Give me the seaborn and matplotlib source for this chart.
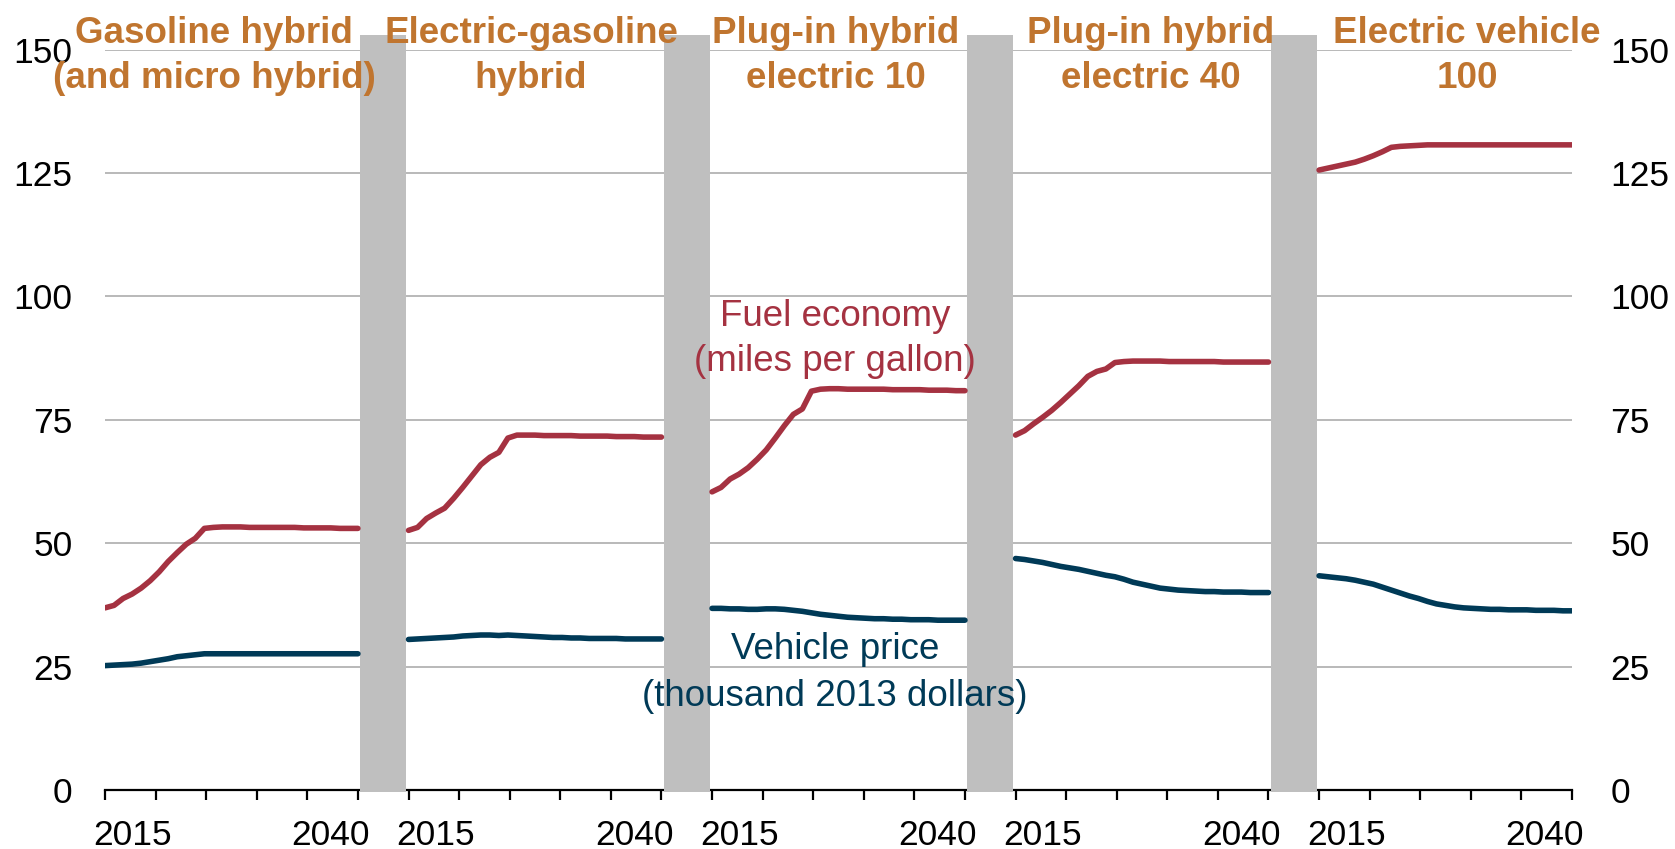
import numpy as np
import pandas as pd
import matplotlib
matplotlib.use('Agg')
import matplotlib.pyplot as plt
import seaborn as sns

# years shown in every panel
years = list(range(2012, 2041))

panel_titles = [
    ['Gasoline hybrid', '(and micro hybrid)'],
    ['Electric-gasoline', 'hybrid'],
    ['Plug-in hybrid', 'electric 10'],
    ['Plug-in hybrid', 'electric 40'],
    ['Electric vehicle', '100'],
]

# fuel economy, miles per gallon
mpg_gas_hybrid = [36.9, 37.4, 38.8, 39.7, 40.9, 42.4, 44.2, 46.3, 48.1, 49.8, 51.0, 53.0, 53.2,
                  53.3, 53.3, 53.3, 53.2, 53.2, 53.2, 53.2, 53.2, 53.2, 53.1, 53.1, 53.1, 53.1,
                  53.0, 53.0, 53.0]
mpg_elec_gas = [52.6, 53.2, 55.0, 56.1, 57.1, 59.1, 61.3, 63.6, 65.9, 67.4, 68.4, 71.3, 71.9,
                71.9, 71.9, 71.8, 71.8, 71.8, 71.8, 71.7, 71.7, 71.7, 71.7, 71.6, 71.6, 71.6,
                71.5, 71.5, 71.5]
mpg_phev10 = [60.4, 61.3, 63.0, 64.0, 65.3, 67.0, 68.9, 71.3, 73.8, 76.1, 77.2, 80.8, 81.2,
              81.3, 81.3, 81.2, 81.2, 81.2, 81.2, 81.2, 81.1, 81.1, 81.1, 81.1, 81.0, 81.0,
              81.0, 80.9, 80.9]
mpg_phev40 = [71.9, 72.8, 74.2, 75.5, 76.9, 78.5, 80.2, 81.9, 83.8, 84.8, 85.3, 86.6, 86.8,
              86.9, 86.9, 86.9, 86.9, 86.8, 86.8, 86.8, 86.8, 86.8, 86.8, 86.7, 86.7, 86.7,
              86.7, 86.7, 86.7]
mpg_ev100 = [125.6, 126.0, 126.4, 126.8, 127.2, 127.8, 128.5, 129.3, 130.2, 130.4, 130.5, 130.6,
             130.7, 130.7, 130.7, 130.7, 130.7, 130.7, 130.7, 130.7, 130.7, 130.7, 130.7, 130.7,
             130.7, 130.7, 130.7, 130.7, 130.7]

# vehicle price, thousand 2013 dollars
price_gas_hybrid = [25.2, 25.3, 25.4, 25.5, 25.7, 26.0, 26.3, 26.6, 27.0, 27.2, 27.4, 27.6, 27.6,
                    27.6, 27.6, 27.6, 27.6, 27.6, 27.6, 27.6, 27.6, 27.6, 27.6, 27.6, 27.6, 27.6,
                    27.6, 27.6, 27.6]
price_elec_gas = [30.5, 30.6, 30.7, 30.8, 30.9, 31.0, 31.2, 31.3, 31.4, 31.4, 31.3, 31.4, 31.3,
                  31.2, 31.1, 31.0, 30.9, 30.9, 30.8, 30.8, 30.7, 30.7, 30.7, 30.7, 30.6, 30.6,
                  30.6, 30.6, 30.6]
price_phev10 = [36.8, 36.8, 36.7, 36.7, 36.6, 36.6, 36.7, 36.7, 36.6, 36.4, 36.2, 35.9, 35.6,
                35.4, 35.2, 35.0, 34.9, 34.8, 34.7, 34.7, 34.6, 34.6, 34.5, 34.5, 34.5, 34.4,
                34.4, 34.4, 34.4]
price_phev40 = [46.9, 46.7, 46.4, 46.1, 45.7, 45.3, 45.0, 44.7, 44.3, 43.9, 43.5, 43.2, 42.7,
                42.1, 41.7, 41.3, 40.9, 40.7, 40.5, 40.4, 40.3, 40.2, 40.2, 40.1, 40.1, 40.1,
                40.0, 40.0, 40.0]
price_ev100 = [43.4, 43.2, 43.0, 42.8, 42.5, 42.1, 41.7, 41.1, 40.5, 39.9, 39.3, 38.8, 38.2,
               37.7, 37.4, 37.1, 36.9, 36.8, 36.7, 36.6, 36.6, 36.5, 36.5, 36.5, 36.4, 36.4,
               36.4, 36.3, 36.3]

mpg_all = [mpg_gas_hybrid, mpg_elec_gas, mpg_phev10, mpg_phev40, mpg_ev100]
price_all = [price_gas_hybrid, price_elec_gas, price_phev10, price_phev40, price_ev100]

y_ticks = [0, 25, 50, 75, 100, 125, 150]

red = '#A53241'
blue = '#003A57'
orange = '#C0752F'
grey_bar = '#BFBFBF'

# each panel is 5 tick intervals wide, 1 interval gap between panels
yrs_per_int = (years[-1] - years[0]) / 5.0


def xpos(panel, yr):
    return 6 * panel + (yr - years[0]) / yrs_per_int


rows = []
for p in range(5):
    for i, yr in enumerate(years):
        rows.append({'panel': p, 'x': xpos(p, yr), 'value': mpg_all[p][i], 'series': 'mpg'})
        rows.append({'panel': p, 'x': xpos(p, yr), 'value': price_all[p][i], 'series': 'price'})
df = pd.DataFrame(rows)

sns.set_theme(style='white')
plt.rcParams['font.family'] = ['Liberation Sans', 'DejaVu Sans']

W, H = 1675, 849
fig = plt.figure(figsize=(W / 100, H / 100), dpi=100)
ax = fig.add_axes([105 / W, 59 / H, (1572 - 105) / W, (790 - 49.6) / H])

sns.lineplot(data=df, x='x', y='value', hue='series', units='panel', estimator=None,
             palette={'mpg': red, 'price': blue}, linewidth=4.0, legend=False, ax=ax,
             zorder=4, solid_capstyle='round', solid_joinstyle='round')

# grey separators between panels
ax.bar([6 * k + 5.5 for k in range(4)], 153.35, width=0.9, bottom=-0.35, color=grey_bar,
       zorder=3, clip_on=False, linewidth=0)

ax.set_xlim(0, 29)
ax.set_ylim(0, 150)
ax.set_yticks(y_ticks)
ax.set_yticklabels([str(v) for v in y_ticks])
ax.yaxis.grid(True, color='#A6A6A6', linewidth=1.1)
ax.xaxis.grid(False)
ax.set_axisbelow(True)
ax.set_xlabel('')
ax.set_ylabel('')

for s in ['top', 'left', 'right']:
    ax.spines[s].set_visible(False)
ax.spines['bottom'].set_color('black')
ax.spines['bottom'].set_linewidth(1.6)

ax.set_xticks(range(0, 30))
ax.set_xticklabels([])
lab_pos = []
lab_txt = []
for p in range(5):
    lab_pos += [xpos(p, 2015), xpos(p, 2037)]
    lab_txt += ['2015', '2040']
ax.set_xticks(lab_pos, minor=True)
ax.set_xticklabels(lab_txt, minor=True)
ax.tick_params(axis='x', which='major', direction='out', length=7.5, width=1.6, color='black',
               bottom=True)
ax.tick_params(axis='x', which='minor', length=0, pad=21, labelsize=25.5, labelcolor='black',
               bottom=True)
ax.tick_params(axis='y', length=0, pad=23.5, labelsize=25.5, labelcolor='black')

ax2 = ax.twinx()
ax2.set_ylim(0, 150)
ax2.set_yticks(y_ticks)
ax2.set_yticklabels([str(v) for v in y_ticks])
ax2.grid(False)
for s in ax2.spines.values():
    s.set_visible(False)
ax2.tick_params(axis='y', length=0, pad=27.5, labelsize=25.5, labelcolor='black')


def px(x, y):
    return x / W, 1 - y / H


title_cx = [214, 531, 836, 1151, 1467]
for p in range(5):
    for j, line in enumerate(panel_titles[p]):
        fx, fy = px(title_cx[p], 43 + 45 * j)
        fig.text(fx, fy, line, color=orange, fontsize=26.5, fontweight='bold', ha='center',
                 va='baseline')

for txt, yb, col in [('Fuel economy', 326, red), ('(miles per gallon)', 371, red),
                     ('Vehicle price', 659, blue), ('(thousand 2013 dollars)', 706, blue)]:
    fx, fy = px(835, yb)
    fig.text(fx, fy, txt, color=col, fontsize=26.5, ha='center', va='baseline')

fig.savefig('out.png', dpi=100)
